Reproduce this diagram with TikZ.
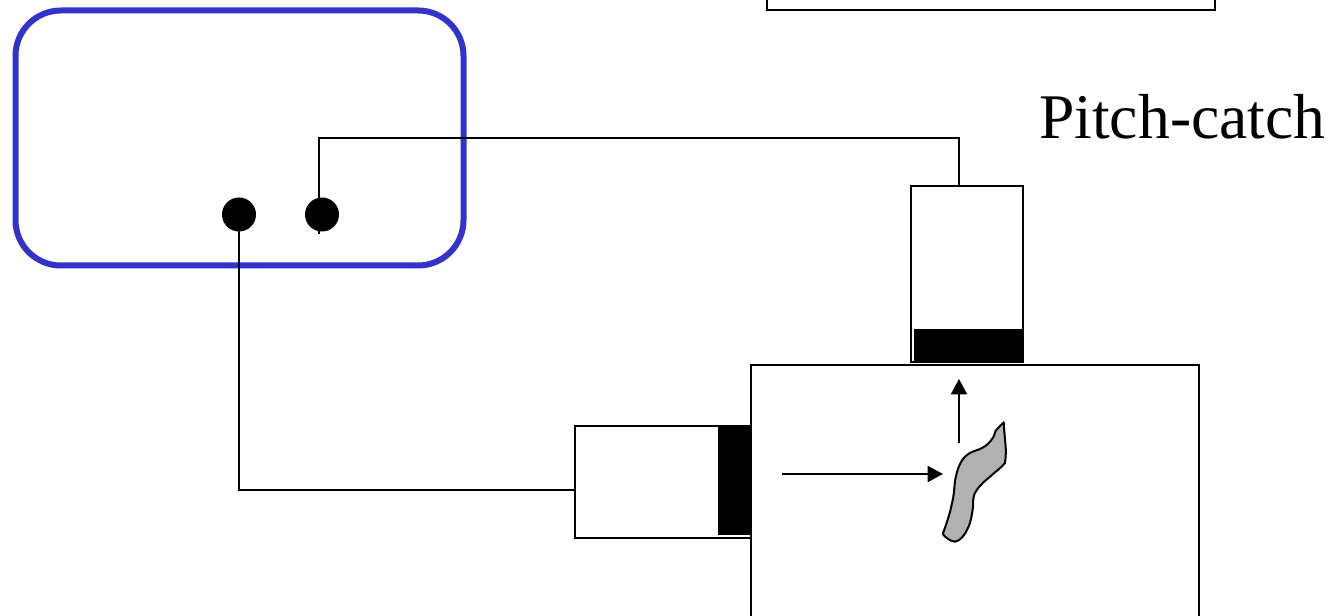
\documentclass[tikz,border=0pt]{standalone}
\usepackage{fontspec}
\setmainfont{Liberation Serif}
\usetikzlibrary{arrows.meta,calc}
\definecolor{boxblue}{RGB}{51,51,204}
\definecolor{flawgray}{RGB}{178,178,178}
\tikzset{
  px/.style={x=0.75pt,y=-0.75pt},
  thinbox/.style={draw=black,line width=1.5pt,fill=white,inner sep=0pt,outer sep=0pt},
  solidblock/.style={fill=black,draw=none,inner sep=0pt,outer sep=0pt},
  wire/.style={draw=black,line width=1.5pt},
  dotnode/.style={circle,fill=black,draw=none,minimum size=25.5pt,inner sep=0pt,outer sep=0pt},
  wave/.style={line width=1.5pt,-{Triangle[length=11.5pt,width=12pt]}},
}
\begin{document}
\begin{tikzpicture}[px]
\clip (0,0) rectangle (1336,616);
\fill[white] (0,0) rectangle (1336,616);
% top box, cut by the page edge
\draw[line width=1.5pt] (767,-20) -- (767,10) -- (1215,10) -- (1215,-20);
% instrument
\draw[draw=boxblue,line width=4.5pt,rounded corners=34pt] (15.5,10.5) rectangle (463.5,265.5);
\node[dotnode] (dotA) at (239,214.5) {};
\node[dotnode] (dotB) at (322,214.5) {};
\coordinate (wireEnd) at (319,234);
% probes
\node[thinbox,minimum width=84pt,minimum height=132pt,anchor=north west] (rx) at (911,186) {};
\node[thinbox,minimum width=132pt,minimum height=84pt,anchor=north west] (tx) at (575,426) {};
\node[solidblock,minimum width=82pt,minimum height=25pt,anchor=north west] (rxEl) at (914,329) {};
\node[solidblock,minimum width=25.5pt,minimum height=82pt,anchor=north west] (txEl) at (718,426) {};
\coordinate (rxPort) at (959,186);
\coordinate (txPort) at (575,490);
% specimen
\draw[line width=1.5pt,fill=white] (751,640) -- (751,365) -- (1199,365) -- (1199,640);
% connectors
\draw[wire] (wireEnd) -- (319,138) -| (rxPort);
\draw[wire] (dotA.center) |- (txPort);
% flaw
\draw[fill=flawgray,line width=1.5pt,line join=round]
  (1003.7,422.3) .. controls (1001,425) and (998,428) .. (995.5,431)
  .. controls (994,436) and (993,439) .. (990,441.7)
  .. controls (986,446) and (984,447) .. (980,449)
  .. controls (975,451) and (971,452) .. (968.3,454)
  .. controls (964,457) and (962,460) .. (960,464)
  .. controls (957,470) and (956,476) .. (955,481)
  .. controls (954,490) and (954,496) .. (952,503)
  .. controls (950,514) and (946,525) .. (942.7,534)
  .. controls (946,538) and (950,541) .. (955,541.7)
  .. controls (960,541) and (965,535) .. (968,528)
  .. controls (971,522) and (972,514) .. (973,507)
  .. controls (973,500) and (973,495) .. (976.7,490)
  .. controls (981,484) and (986,480) .. (990,476.7)
  .. controls (995,472) and (1001,468) .. (1005,463)
  .. controls (1006,456) and (1006,450) .. (1005.5,445)
  .. controls (1005,438) and (1004,430) .. (1003.7,422.3) -- cycle;
% wave arrows
\coordinate (inStart) at (782,474);
\coordinate (inEnd) at (943,474);
\coordinate (outStart) at (959,443);
\coordinate (outEnd) at (959,379);
\draw[wave] (inStart) -- (inEnd);
\draw[wave] (outStart) -- (outEnd);
% label
\node[anchor=base west,inner sep=0pt,font=\fontsize{47.7pt}{50pt}\selectfont] (lab) at (1039,139) {Pitch-catch};
\end{tikzpicture}
\end{document}
